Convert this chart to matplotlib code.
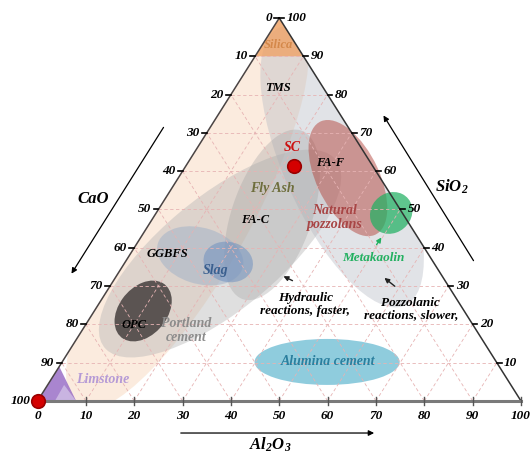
import matplotlib
matplotlib.use("Agg")
import matplotlib.pyplot as plt
from matplotlib.patches import Ellipse, Polygon
import numpy as np

# FONTS (Times-like bold italic everywhere)
plt.rcParams['font.family'] = ['Liberation Serif', 'DejaVu Serif']
plt.rcParams['font.weight'] = 'bold'
plt.rcParams['font.style'] = 'italic'
plt.rcParams['mathtext.fontset'] = 'custom'
plt.rcParams['mathtext.rm'] = 'Liberation Serif:bold:italic'
plt.rcParams['mathtext.it'] = 'Liberation Serif:bold:italic'
plt.rcParams['mathtext.bf'] = 'Liberation Serif:bold:italic'

# DATA  -- compositions given as (Al2O3 %, SiO2 %), CaO = 100 - both
ticks = list(range(0, 101, 10))

region_names = ["background", "portland", "pozzolanic", "flyash", "ggbfs", "slag",
                "opc", "natural", "metakaolin", "alumina"]
region_al2o3 = [6.75, 18.5, 32.4, 24.2, 14.7, 21.3, 10.1, 35.1, 48.6, 54.8]
region_sio2 = [48.5, 38.5, 61.2, 48.6, 37.9, 36.3, 23.5, 58.2, 49.1, 10.2]

point_names = ["SC", "Limestone"]
point_al2o3 = [22.35, 0.0]
point_sio2 = [61.4, 0.0]

silica_al2o3 = [0, 0, 10]
silica_sio2 = [100, 90, 90]
lime_al2o3 = [0, 0, 8]
lime_sio2 = [0, 9, 0]
lime2_al2o3 = [3.6, 8, 3.4]
lime2_sio2 = [0, 0, 4.2]

label_texts = ["Silica", "TMS", "SC", "FA-F", "Fly Ash", "FA-C", "Natural\npozzolans",
               "Metakaolin", "GGBFS", "Slag", "OPC", "Portland\ncement",
               "Hydraulic\nreactions, faster,", "Pozzolanic\nreactions, slower,",
               "Alumina cement", "Limstone"]
label_al2o3 = [3.3, 8.9, 19.6, 29.4, 20.7, 21.4, 37.5, 50.9, 7.6, 19.8, 10.0, 21.4,
               42.7, 65.2, 54.9, 10.8]
label_sio2 = [92.9, 81.7, 66.1, 62.1, 55.6, 47.3, 48.0, 37.3, 38.4, 34.2, 19.8, 18.5,
              25.3, 24.0, 10.4, 5.5]

# STYLE of each region (long axis, short axis, angle, colour, alpha, clipped to triangle)
region_long = [98, 64, 68, 40, 18.4, 10.4, 15, 28, 9.7, 30]
region_short = [26, 25, 24, 16.7, 12.6, 9, 10.2, 13.1, 8.5, 10.4]
region_angle = [63, 42.5, 112, 73, 160.4, 159, 57, 113, 62, 0]
region_color = ['#f8d9bf', '#b4b4b4', '#b9bdc6', '#a3a3a3', '#9fb0c8', '#5f86bd',
                '#3a3434', '#b5473f', '#21b062', '#7cc3d8']
region_alpha = [0.5, 0.42, 0.42, 0.35, 0.5, 0.45, 0.8, 0.5, 0.72, 0.85]
region_clip = [True, False, True, False, False, False, False, False, False, False]

label_colors = ['#d4884a', 'black', '#cc1111', 'black', '#6e6e3c', 'black', '#a84545',
                '#22b060', 'black', '#3a5f8f', 'black', '#8c8c8c', 'black', 'black',
                '#2b7f9e', '#b59ad6']
label_sizes = [9, 9, 10, 9, 10, 9, 10, 9.5, 9, 10, 9, 10, 9.5, 9.5, 10, 10]

H = np.sqrt(3) / 2


def tern(al, si):
    return al + si / 2.0, si * H


# FIGURE
fig = plt.figure(figsize=(5.3, 4.54), dpi=100)
ax = fig.add_axes([0, 0, 1, 1])
ax.set_xlim(-7.756, 101.86)
ax.set_ylim(-11.984, 90.67)
ax.axis('off')

triangle = Polygon([tern(0, 0), tern(100, 0), tern(0, 100)], closed=True,
                   facecolor='none', edgecolor='none', transform=ax.transData)
ax.add_patch(triangle)

# regions
for i in range(len(region_names)):
    e = Ellipse(tern(region_al2o3[i], region_sio2[i]), region_long[i], region_short[i],
                angle=region_angle[i], facecolor=region_color[i], edgecolor='none',
                alpha=region_alpha[i], zorder=1 + i * 0.01)
    ax.add_patch(e)
    if region_clip[i]:
        e.set_clip_path(triangle)

ax.add_patch(Polygon([tern(a, s) for a, s in zip(silica_al2o3, silica_sio2)],
                     facecolor='#f0a060', alpha=0.75, edgecolor='none', zorder=1.2))
ax.add_patch(Polygon([tern(a, s) for a, s in zip(lime_al2o3, lime_sio2)],
                     facecolor='#9467c4', alpha=0.8, edgecolor='none', zorder=1.2))
ax.add_patch(Polygon([tern(a, s) for a, s in zip(lime2_al2o3, lime2_sio2)],
                     facecolor='#d2c0e6', alpha=0.8, edgecolor='none', zorder=1.21))

# grid
for v in ticks[1:-1]:
    for p, q in [((0, v), (100 - v, v)), ((v, 0), (v, 100 - v)), ((100 - v, 0), (0, 100 - v))]:
        x0, y0 = tern(*p)
        x1, y1 = tern(*q)
        ax.plot([x0, x1], [y0, y1], color='#e6b3b3', lw=0.6, ls=(0, (4, 3)), zorder=1.5)

# triangle edges
ax.plot(*zip(tern(0, 0), tern(0, 100)), color='#4a4444', lw=1.1, zorder=3)
ax.plot(*zip(tern(100, 0), tern(0, 100)), color='#333333', lw=1.1, zorder=3)
ax.plot(*zip(tern(0, 0), tern(100, 0)), color='#7a7a7a', lw=2.2, zorder=3)

# ticks and tick labels
for v in ticks:
    x, y = tern(0, 100 - v)           # CaO on the left edge
    ax.plot([x - 1.0, x], [y, y], color='black', lw=1.2, zorder=3)
    ax.text(x - 1.5, y, str(v), ha='right', va='center', fontsize=9.5, zorder=4)
    x, y = tern(v, 0)                 # Al2O3 on the bottom
    ax.plot([x, x], [-0.9, 0.9], color='#555555', lw=1.0, zorder=3)
    ax.text(x, -3.3, str(v), ha='center', va='center', fontsize=9.5, zorder=4)
    if v > 0:
        x, y = tern(100 - v, v)       # SiO2 on the right edge
        ax.plot([x, x + 1.0], [y, y], color='black', lw=1.2, zorder=3)
        ax.text(x + 1.5, y, str(v), ha='left', va='center', fontsize=9.5, zorder=4)

# points
for i in range(len(point_names)):
    x, y = tern(point_al2o3[i], point_sio2[i])
    ax.scatter([x], [y], s=95, color='#d40000', edgecolor='#9a0000', linewidth=1.2, zorder=5,
               clip_on=False)

# labels
for i, t in enumerate(label_texts):
    x, y = tern(label_al2o3[i], label_sio2[i])
    ax.text(x, y, t, ha='center', va='center', color=label_colors[i], fontsize=label_sizes[i],
            linespacing=1.1, zorder=6)

# small arrows
arrow_from = [(37.7, 31.1), (59.6, 29.5), (49.7, 40.2)]
arrow_to = [(33.9, 32.9), (55.0, 32.6), (49.8, 43.3)]
arrow_col = ['#222222', '#222222', '#22b060']
for p, q, c in zip(arrow_from, arrow_to, arrow_col):
    ax.annotate('', xy=tern(*q), xytext=tern(*p),
                arrowprops=dict(arrowstyle='-|>', color=c, lw=1.0, mutation_scale=7), zorder=6)

# outer axis arrows and names
ax.annotate('', xy=(6.72, 28.26), xytext=(26.37, 62.4),
            arrowprops=dict(arrowstyle='-|>', color='black', lw=0.9, mutation_scale=8))
ax.annotate('', xy=(71.25, 65.1), xytext=(90.48, 31.2),
            arrowprops=dict(arrowstyle='-|>', color='black', lw=0.9, mutation_scale=8))
ax.annotate('', xy=(70.2, -7.24), xytext=(29.06, -7.24),
            arrowprops=dict(arrowstyle='-|>', color='black', lw=0.9, mutation_scale=8))
ax.text(11.5, 45.7, 'CaO', ha='center', va='center', fontsize=12)
ax.text(85.7, 48.4, 'SiO$_2$', ha='center', va='center', fontsize=12)
ax.text(48.1, -9.8, 'Al$_2$O$_3$', ha='center', va='center', fontsize=12)

fig.savefig('out.png', dpi=100)
